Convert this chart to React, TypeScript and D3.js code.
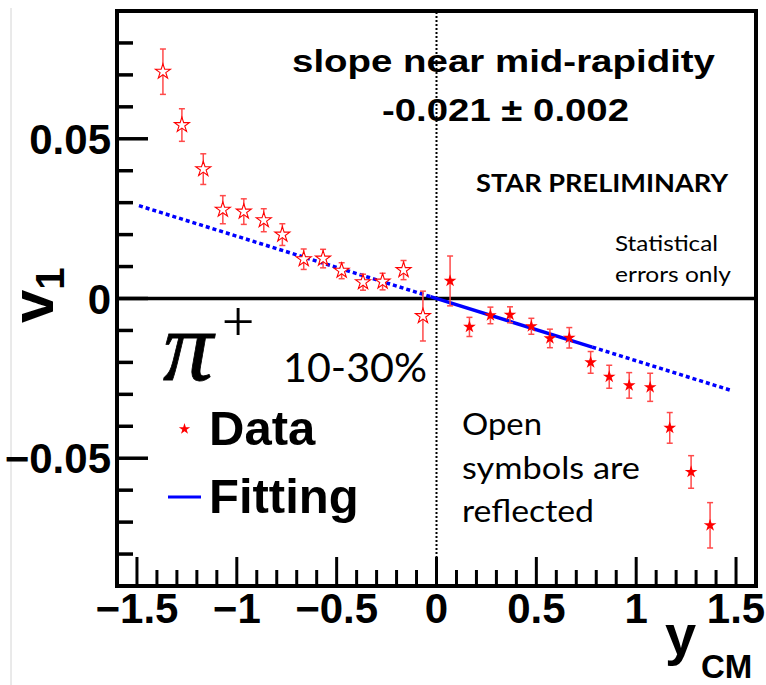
import React from "react";
import * as d3 from "d3";

// rapidity (y_CM) of measured points (filled stars)
const RAPIDITY = [0.068, 0.165, 0.27, 0.368, 0.475, 0.568, 0.665, 0.772, 0.865, 0.965, 1.07, 1.168, 1.275, 1.37];
// v1 values of measured points
const V1 = [0.0055, -0.0089, -0.0053, -0.0051, -0.0087, -0.0125, -0.0123, -0.02, -0.0245, -0.0272, -0.0278, -0.0405, -0.0543, -0.071];
// statistical errors
const V1_ERR = [0.0078, 0.003, 0.0026, 0.0025, 0.0025, 0.0029, 0.0032, 0.0034, 0.0036, 0.004, 0.0044, 0.0048, 0.0051, 0.0071];

// linear fit
const FIT_SLOPE = -0.0195;
const FIT_SOLID = [-0.03, 0.78];
const FIT_DOTTED_LEFT = [-1.49, -0.03];
const FIT_DOTTED_RIGHT = [0.78, 1.47];

const X_DOMAIN = [-1.6, 1.6];
const Y_DOMAIN = [-0.09, 0.09];
const X_TICK_LABELS = ["\u22121.5", "\u22121", "\u22120.5", "0", "0.5", "1", "1.5"];
const X_TICK_VALUES = [-1.5, -1, -0.5, 0, 0.5, 1, 1.5];
const Y_TICK_LABELS = ["\u22120.05", "0", "0.05"];
const Y_TICK_VALUES = [-0.05, 0, 0.05];

const W = 766;
const H = 685;

export default function App() {
  const x = d3.scaleLinear().domain(X_DOMAIN).range([117, 756]);
  const y = d3.scaleLinear().domain(Y_DOMAIN).range([586, 11]);

  const xMinor = d3.range(-15, 16).map((i) => ({ v: i / 10, major: i % 5 === 0 }));
  const yMinor = d3.range(-8, 9).map((i) => ({ v: i / 100, major: i % 5 === 0 }));

  const line = d3
    .line<number>()
    .x((d) => x(d))
    .y((d) => y(FIT_SLOPE * d));

  const filledStar = d3.symbol().type(d3.symbolStar).size(50)()!;
  const openStar = d3.symbol().type(d3.symbolStar).size(70)()!;
  const legendStar = d3.symbol().type(d3.symbolStar).size(40)()!;

  const points = RAPIDITY.map((r, i) => ({ r, v: V1[i], e: V1_ERR[i] }));
  const reflected = points.map((p) => ({ r: -p.r, v: -p.v, e: p.e }));

  const bold = "'Liberation Sans', Arial, sans-serif";
  const calibri = "Lato, 'Open Sans', sans-serif";
  const errColor = "#ff4a4a";

  return (
    <svg
      width={W}
      height={H}
      style={{ position: "absolute", left: 0, top: 0, background: "#fff" }}
    >
      <rect x={0} y={0} width={W} height={H} fill="#fff" />
      <line x1={11} x2={11} y1={8} y2={H} stroke="#d4d4d4" strokeWidth={1} />

      {/* ticks */}
      {xMinor.map((t, i) => (
        <line
          key={"xt" + i}
          x1={x(t.v)}
          x2={x(t.v)}
          y1={586}
          y2={586 - (t.major ? 29 : 16)}
          stroke="#000"
          strokeWidth={3}
        />
      ))}
      {yMinor.map((t, i) => (
        <line
          key={"yt" + i}
          x1={117}
          x2={117 + (t.major ? 31 : 16)}
          y1={y(t.v)}
          y2={y(t.v)}
          stroke="#000"
          strokeWidth={3.5}
        />
      ))}

      {/* texts inside */}
      <text x={292} y={72} fontFamily={bold} fontWeight="bold" fontSize={32} textLength={423} lengthAdjust="spacingAndGlyphs">
        slope near mid-rapidity
      </text>
      <text x={382} y={121} fontFamily={bold} fontWeight="bold" fontSize={32} textLength={247} lengthAdjust="spacingAndGlyphs">
        -0.021 ± 0.002
      </text>
      <text x={476} y={192} fontFamily={calibri} fontWeight="bold" fontSize={25} textLength={252} lengthAdjust="spacingAndGlyphs">
        STAR PRELIMINARY
      </text>
      <text x={615} y={251} fontFamily={calibri} fontSize={22} textLength={103} lengthAdjust="spacingAndGlyphs">
        Statistical
      </text>
      <text x={615} y={282} fontFamily={calibri} fontSize={22} textLength={116} lengthAdjust="spacingAndGlyphs">
        errors only
      </text>

      {/* zero lines */}
      <line x1={117} x2={756} y1={y(0)} y2={y(0)} stroke="#000" strokeWidth={3.5} />
      <line x1={x(0)} x2={x(0)} y1={12} y2={585} stroke="#000" strokeWidth={2} strokeDasharray="2 2" />

      {/* fit */}
      <path d={line(FIT_DOTTED_LEFT) || ""} fill="none" stroke="#0000ff" strokeWidth={3.5} strokeDasharray="4 3" />
      <path d={line(FIT_DOTTED_RIGHT) || ""} fill="none" stroke="#0000ff" strokeWidth={3.5} strokeDasharray="4 3" />
      <path d={line(FIT_SOLID) || ""} fill="none" stroke="#0000ff" strokeWidth={3.5} />

      {/* error bars */}
      {[...points, ...reflected].map((p, i) => (
        <g key={"e" + i} stroke={errColor} strokeWidth={1.5}>
          <line x1={x(p.r)} x2={x(p.r)} y1={y(p.v + p.e)} y2={y(p.v - p.e)} />
          <line x1={x(p.r) - 3} x2={x(p.r) + 3} y1={y(p.v + p.e)} y2={y(p.v + p.e)} />
          <line x1={x(p.r) - 3} x2={x(p.r) + 3} y1={y(p.v - p.e)} y2={y(p.v - p.e)} />
        </g>
      ))}
      {reflected.map((p, i) => (
        <path
          key={"o" + i}
          d={openStar}
          transform={`translate(${x(p.r)},${y(p.v)})`}
          fill="#fff"
          stroke="#ff0000"
          strokeWidth={1.1}
        />
      ))}
      {points.map((p, i) => (
        <path key={"f" + i} d={filledStar} transform={`translate(${x(p.r)},${y(p.v)})`} fill="#ff0000" />
      ))}

      {/* frame */}
      <rect x={117} y={11} width={756 - 117} height={586 - 11} fill="none" stroke="#000" strokeWidth={4} />

      {/* particle label */}
      <text
        x={163}
        y={380}
        fontFamily="'Liberation Serif', 'DejaVu Serif', serif"
        fontStyle="italic"
        fontSize={100}
        stroke="#000"
        strokeWidth={0.8}
      >
        π
      </text>
      <text x={238} y={341} textAnchor="middle" fontFamily="'Liberation Serif', serif" fontSize={58}>
        +
      </text>
      <text x={283} y={382} fontFamily={calibri} fontSize={41} textLength={144} lengthAdjust="spacingAndGlyphs">
        10-30%
      </text>

      {/* legend */}
      <path d={legendStar} transform="translate(184.5,429)" fill="#ff0000" />
      <text x={209} y={445} fontFamily={bold} fontWeight="bold" fontSize={49}>
        Data
      </text>
      <line x1={168} x2={201} y1={497} y2={497} stroke="#0000ff" strokeWidth={3} />
      <text x={209} y={513} fontFamily={bold} fontWeight="bold" fontSize={49}>
        Fitting
      </text>

      <text x={462} y={435} fontFamily={calibri} fontSize={30} textLength={80} lengthAdjust="spacingAndGlyphs">
        Open
      </text>
      <text x={462} y={479} fontFamily={calibri} fontSize={30} textLength={178} lengthAdjust="spacingAndGlyphs">
        symbols are
      </text>
      <text x={462} y={522} fontFamily={calibri} fontSize={30} textLength={132} lengthAdjust="spacingAndGlyphs">
        reflected
      </text>

      {/* axis tick labels */}
      {X_TICK_VALUES.map((v, i) => (
        <text key={"xl" + i} x={x(v)} y={623} textAnchor="middle" fontFamily={bold} fontWeight="bold" fontSize={42}>
          {X_TICK_LABELS[i]}
        </text>
      ))}
      {Y_TICK_VALUES.map((v, i) => (
        <text key={"yl" + i} x={111} y={y(v) + 15} textAnchor="end" fontFamily={bold} fontWeight="bold" fontSize={42}>
          {Y_TICK_LABELS[i]}
        </text>
      ))}

      {/* axis titles */}
      <text transform="translate(53,323) rotate(-90)" fontFamily={bold} fontWeight="bold" fontSize={60}>
        v
        <tspan fontSize={40} dy={11}>
          1
        </tspan>
      </text>
      <text x={665} y={654} fontFamily={bold} fontWeight="bold" fontSize={56}>
        y
      </text>
      <text x={701} y={678} fontFamily={bold} fontWeight="bold" fontSize={33}>
        CM
      </text>
    </svg>
  );
}
